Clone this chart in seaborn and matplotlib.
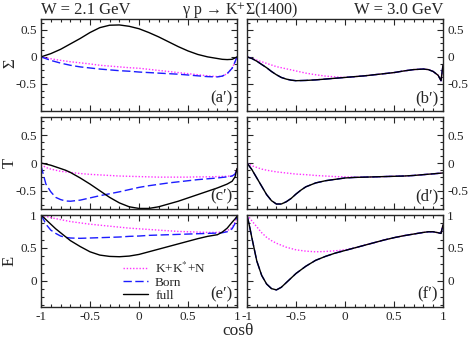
import matplotlib
matplotlib.use("Agg")
import matplotlib.pyplot as plt
import seaborn as sns
from matplotlib.ticker import MultipleLocator

# ---- data ----
# (a') Sigma, W = 2.1 GeV
xa = [-1, -0.9, -0.8, -0.7, -0.6, -0.5, -0.4, -0.3, -0.2, -0.1, 0, 0.1, 0.2,
      0.3, 0.4, 0.5, 0.6, 0.7, 0.8, 0.85, 0.9, 0.95, 0.98, 1.0]
a_full = [0, 0.06, 0.14, 0.24, 0.34, 0.45, 0.54, 0.585, 0.59, 0.565, 0.52, 0.45, 0.37,
          0.28, 0.19, 0.11, 0.045, 0.0, -0.03, -0.045, -0.05, -0.045, -0.02, 0.0]
a_born = [0, -0.065, -0.115, -0.155, -0.185, -0.205, -0.225, -0.24, -0.255, -0.265, -0.28,
          -0.29, -0.30, -0.31, -0.32, -0.335, -0.35, -0.365, -0.37, -0.355, -0.31, -0.21,
          -0.09, 0.0]
a_kkn = [0, -0.035, -0.065, -0.09, -0.11, -0.13, -0.155, -0.17, -0.185, -0.2, -0.21,
         -0.23, -0.25, -0.27, -0.29, -0.31, -0.33, -0.35, -0.365, -0.355, -0.31, -0.21,
         -0.09, 0.0]

# (b') Sigma, W = 3.0 GeV
xb = [-1, -0.95, -0.9, -0.85, -0.8, -0.75, -0.7, -0.65, -0.6, -0.55, -0.5, -0.4, -0.3,
      -0.2, -0.1, 0, 0.1, 0.2, 0.3, 0.4, 0.5, 0.6, 0.7, 0.8, 0.85, 0.9, 0.95, 0.98, 1.0]
b_full = [0, -0.03, -0.08, -0.14, -0.2, -0.27, -0.33, -0.38, -0.41, -0.43, -0.44, -0.435,
          -0.425, -0.41, -0.395, -0.38, -0.365, -0.35, -0.33, -0.31, -0.29, -0.26, -0.235,
          -0.225, -0.235, -0.27, -0.34, -0.44, -0.15]
b_kkn = [0, -0.03, -0.06, -0.09, -0.12, -0.15, -0.18, -0.2, -0.22, -0.24, -0.26, -0.3,
         -0.33, -0.355, -0.37, -0.38, -0.365, -0.35, -0.33, -0.31, -0.29, -0.26, -0.235,
         -0.225, -0.235, -0.27, -0.34, -0.44, -0.15]

# (c') T, W = 2.1 GeV
xc = [-1, -0.95, -0.9, -0.85, -0.8, -0.75, -0.7, -0.6, -0.5, -0.4, -0.3, -0.2, -0.1, 0,
      0.1, 0.2, 0.3, 0.4, 0.5, 0.6, 0.7, 0.8, 0.9, 0.95, 0.98, 1.0]
c_full = [0, -0.02, -0.04, -0.07, -0.1, -0.13, -0.17, -0.27, -0.38, -0.5, -0.62, -0.72,
          -0.79, -0.82, -0.82, -0.79, -0.74, -0.69, -0.63, -0.57, -0.51, -0.45, -0.38,
          -0.33, -0.25, -0.1]
c_born = [-0.05, -0.38, -0.52, -0.62, -0.66, -0.685, -0.69, -0.67, -0.63, -0.59, -0.555,
          -0.52, -0.48, -0.44, -0.41, -0.385, -0.36, -0.34, -0.32, -0.30, -0.285, -0.27,
          -0.25, -0.235, -0.2, -0.1]
c_kkn = [-0.03, -0.08, -0.11, -0.13, -0.15, -0.16, -0.17, -0.19, -0.205, -0.215, -0.225,
         -0.235, -0.24, -0.245, -0.25, -0.255, -0.255, -0.255, -0.255, -0.25, -0.25,
         -0.245, -0.24, -0.23, -0.2, -0.1]

# (d') T, W = 3.0 GeV
xd = [-1, -0.95, -0.9, -0.85, -0.8, -0.75, -0.7, -0.65, -0.6, -0.55, -0.5, -0.45, -0.4,
      -0.3, -0.2, -0.1, 0, 0.1, 0.2, 0.3, 0.4, 0.5, 0.6, 0.7, 0.8, 0.9, 1.0]
d_full = [0, -0.12, -0.27, -0.42, -0.57, -0.68, -0.74, -0.74, -0.70, -0.64, -0.56, -0.49,
          -0.43, -0.36, -0.32, -0.295, -0.27, -0.26, -0.255, -0.25, -0.245, -0.24, -0.235,
          -0.225, -0.21, -0.195, -0.18]
d_kkn = [0, -0.05, -0.08, -0.11, -0.13, -0.145, -0.16, -0.17, -0.18, -0.19, -0.2, -0.205,
         -0.21, -0.225, -0.235, -0.245, -0.25, -0.255, -0.255, -0.25, -0.245, -0.24, -0.235,
         -0.225, -0.21, -0.195, -0.18]

# (e') E, W = 2.1 GeV
xe = [-1, -0.97, -0.95, -0.9, -0.85, -0.8, -0.75, -0.7, -0.6, -0.5, -0.4, -0.3, -0.2,
      -0.1, 0, 0.1, 0.2, 0.3, 0.4, 0.5, 0.6, 0.7, 0.8, 0.85, 0.9, 0.95, 0.98, 1.0]
e_full = [1.0, 0.96, 0.93, 0.86, 0.79, 0.73, 0.67, 0.61, 0.52, 0.44, 0.39, 0.37, 0.365,
          0.375, 0.40, 0.44, 0.48, 0.52, 0.56, 0.60, 0.64, 0.675, 0.70, 0.74, 0.80, 0.89,
          0.94, 0.98]
e_born = [1.0, 0.92, 0.86, 0.77, 0.72, 0.68, 0.66, 0.65, 0.645, 0.65, 0.655, 0.66, 0.665,
          0.675, 0.68, 0.69, 0.695, 0.70, 0.705, 0.71, 0.715, 0.72, 0.725, 0.73, 0.745,
          0.79, 0.87, 0.98]
e_kkn = [1.0, 0.99, 0.98, 0.96, 0.945, 0.93, 0.915, 0.90, 0.88, 0.86, 0.845, 0.83, 0.815,
         0.80, 0.79, 0.78, 0.77, 0.76, 0.75, 0.745, 0.74, 0.735, 0.735, 0.74, 0.76, 0.81,
         0.89, 0.98]

# (f') E, W = 3.0 GeV
xf = [-1, -0.97, -0.95, -0.9, -0.85, -0.8, -0.75, -0.7, -0.65, -0.6, -0.55, -0.5, -0.4,
      -0.3, -0.2, -0.1, 0, 0.1, 0.2, 0.3, 0.4, 0.5, 0.6, 0.7, 0.8, 0.85, 0.9, 0.95, 0.98, 1.0]
f_full = [1.0, 0.8, 0.65, 0.30, 0.08, -0.05, -0.12, -0.14, -0.10, -0.03, 0.04, 0.11, 0.22,
          0.31, 0.37, 0.42, 0.46, 0.50, 0.54, 0.58, 0.62, 0.655, 0.685, 0.71, 0.735, 0.745,
          0.745, 0.73, 0.72, 0.85]
f_kkn = [1.0, 0.95, 0.91, 0.82, 0.73, 0.66, 0.61, 0.57, 0.54, 0.51, 0.49, 0.47, 0.45, 0.44,
         0.445, 0.455, 0.47, 0.50, 0.54, 0.58, 0.62, 0.655, 0.685, 0.71, 0.735, 0.745,
         0.745, 0.73, 0.72, 0.85]

labels = ["K+K$^{*}$+N", "Born", "full"]
xticks = [-1, -0.5, 0, 0.5, 1]
xticklabels = ["-1", "-0.5", "0", "0.5", "1"]

sns.set_style("ticks")
plt.rcParams["font.family"] = ["Liberation Serif", "DejaVu Serif"]
plt.rcParams["mathtext.fontset"] = "stix"
plt.rcParams["axes.unicode_minus"] = False

fig = plt.figure(figsize=(4.69, 3.38), dpi=100)

col_x = [41 / 469, 247 / 469]
row_y = [1 - 111 / 338, 1 - 209 / 338, 1 - 307 / 338]
w, h = 196 / 469, 92 / 338

magenta = "#ff30ff"
blue = "#1c1cff"

panels = [
    # x, kkn, born, full, ylim, yticks, yticklabels, tag
    (xa, a_kkn, a_born, a_full, (-1.0, 0.7), [-0.5, 0, 0.5], ["-0.5", "0", "0.5"], "(a\u2032)"),
    (xb, b_kkn, b_full, b_full, (-1.0, 0.7), [-0.5, 0, 0.5], ["-0.5", "0", "0.5"], "(b\u2032)"),
    (xc, c_kkn, c_born, c_full, (-0.83, 0.83), [-0.5, 0, 0.5], ["-0.5", "0", "0.5"], "(c\u2032)"),
    (xd, d_kkn, d_full, d_full, (-0.83, 0.83), [-0.5, 0, 0.5], ["-0.5", "0", "0.5"], "(d\u2032)"),
    (xe, e_kkn, e_born, e_full, (-0.4, 1.0), [0, 0.5, 1], ["0", "0.5", "1"], "(e\u2032)"),
    (xf, f_kkn, f_full, f_full, (-0.4, 1.0), [0, 0.5, 1], ["0", "0.5", "1"], "(f\u2032)"),
]

for i, (x, kkn, born, full, ylim, yt, ytl, tag) in enumerate(panels):
    row, col = divmod(i, 2)
    ax = fig.add_axes([col_x[col], row_y[row], w, h])
    sns.lineplot(x=x, y=kkn, ax=ax, color=magenta, lw=1.0, linestyle=(0, (1, 1.3)),
                 sort=False, estimator=None, label=labels[0])
    sns.lineplot(x=x, y=born, ax=ax, color=blue, lw=1.0, linestyle=(0, (6, 2.5)),
                 sort=False, estimator=None, label=labels[1])
    sns.lineplot(x=x, y=full, ax=ax, color="black", lw=1.0,
                 sort=False, estimator=None, label=labels[2])
    ax.set_xlim(-1, 1)
    ax.set_ylim(*ylim)
    ax.set_xticks(xticks)
    ax.set_yticks(yt)
    ax.set_yticklabels(ytl)
    ax.xaxis.set_minor_locator(MultipleLocator(0.1))
    ax.yaxis.set_minor_locator(MultipleLocator(0.125))
    ax.tick_params(which="both", direction="in", top=True, right=True, labelsize=9.5,
                   width=0.8, pad=3)
    ax.tick_params(which="major", length=4)
    ax.tick_params(which="minor", length=2)
    if row == 2:
        ax.set_xticklabels(xticklabels)
    else:
        ax.set_xticklabels([])
    if col == 1:
        ax.tick_params(labelleft=False, labelright=True)
    for s in ax.spines.values():
        s.set_linewidth(1.0)
    ax.set_xlabel("")
    ax.set_ylabel("")
    ax.text(0.975, 0.05, tag, transform=ax.transAxes, ha="right", va="bottom", fontsize=12)
    if i == 4:
        ax.legend(loc="lower left", bbox_to_anchor=(0.38, -0.03), frameon=False,
                  fontsize=9.5, handlelength=1.9, labelspacing=0.05, handletextpad=0.5,
                  borderaxespad=0.2)
    else:
        ax.get_legend().remove()

fig.text(41 / 469, 1 - 14 / 338, "W = 2.1 GeV", ha="left", va="baseline", fontsize=12)
fig.text(240 / 469, 1 - 14 / 338, "\u03b3 p \u2192 K$^{+}$\u03a3(1400)",
         ha="center", va="baseline", fontsize=11.5)
fig.text(443 / 469, 1 - 14 / 338, "W = 3.0 GeV", ha="right", va="baseline", fontsize=12)

for yl, yc in [("\u03a3", 63), ("T", 163), ("E", 261)]:
    fig.text(10 / 469, 1 - yc / 338, yl, rotation=90, ha="center", va="center", fontsize=12)
fig.text(238 / 469, 1 - 335 / 338, "cos\u03b8", ha="center", va="baseline", fontsize=12.5)

fig.savefig("out.png", dpi=100)
